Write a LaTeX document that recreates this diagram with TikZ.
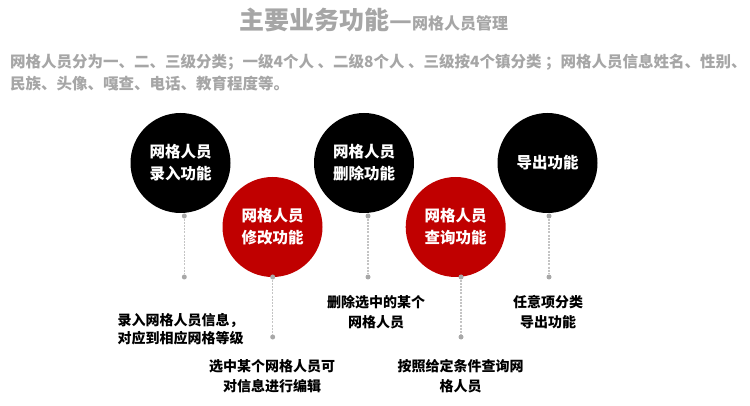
\documentclass[tikz,border=0pt]{standalone}
\usepackage{fontspec}
\setmainfont{Noto Sans CJK SC}
\definecolor{tgray}{HTML}{A6A6A6}
\definecolor{cred}{HTML}{C00000}
\definecolor{linegray}{HTML}{C4C4C4}
\definecolor{dotgray}{HTML}{A8A8A8}
\begin{document}
\begin{tikzpicture}[x=1pt,y=-1pt,
  bigc/.style={circle, minimum size=100pt, inner sep=0, text=white, font=\fontsize{15.5}{22}\selectfont\bfseries, align=center},
  blk/.style={bigc, fill=black},
  rd/.style={bigc, fill=cred},
  lbl/.style={align=center, inner sep=0, text=black, font=\fontsize{14}{18}\selectfont\bfseries},
  lblw/.style={lbl, font=\fontsize{14}{20}\selectfont\bfseries},
  subt/.style={anchor=west, inner sep=0, text=tgray, font=\fontsize{15.5}{15.5}\selectfont\bfseries},
  dotn/.style={circle, fill=dotgray, minimum size=5pt, inner sep=0},
  conn/.style={draw=linegray, line width=1.3pt, dash pattern=on 2pt off 1.2pt}]
\useasboundingbox (0,0) rectangle (750,406);
% title
\node[anchor=base west, inner sep=0, text=tgray] (title) at (239,29.5)
  {{\fontsize{25}{25}\selectfont\bfseries 主要业务功能—}{\fontsize{16}{16}\selectfont\bfseries 网格人员管理}};
\node[subt] (sub1) at (10,62)
  {网格人员分为一、二、三级分类；一级4个人 、二级8个人 、三级按4个镇分类 ；网格人员信息姓名、性别、};
\node[subt] (sub2) at (10,84)
  {民族、头像、嘎查、电话、教育程度等。};
% circles
\node[blk] (c1) at (180.5,163) {网格人员\\录入功能};
\node[rd]  (c2) at (272.5,227) {网格人员\\修改功能};
\node[blk] (c3) at (364,163) {网格人员\\删除功能};
\node[rd]  (c4) at (455.7,227) {网格人员\\查询功能};
\node[blk] (c5) at (547.5,163) {导出功能};
% dots
\node[dotn] (d1a) at (184.3,216) {};
\node[dotn] (d1b) at (184.3,277) {};
\node[dotn] (d2a) at (272.7,277) {};
\node[dotn] (d2b) at (272.7,337) {};
\node[dotn] (d3a) at (368,216) {};
\node[dotn] (d3b) at (368,277) {};
\node[dotn] (d4a) at (461,277) {};
\node[dotn] (d4b) at (461,337) {};
\node[dotn] (d5a) at (549,216) {};
\node[dotn] (d5b) at (549,277) {};
\draw[conn] (d1a) -- (d1b);
\draw[conn] (d2a) -- (d2b);
\draw[conn] (d3a) -- (d3b);
\draw[conn] (d4a) -- (d4b);
\draw[conn] (d5a) -- (d5b);
% labels
\node[lbl]  (l1) at (180.5,329) {录入网格人员信息，\\对应到相应网格等级};
\node[lblw] (l2) at (272,376) {选中某个网格人员可\\对信息进行编辑};
\node[lblw] (l3) at (376,312.5) {删除选中的某个\\网格人员};
\node[lblw] (l4) at (460.5,376) {按照给定条件查询网\\格人员};
\node[lblw] (l5) at (548,312.2) {任意项分类\\导出功能};
\end{tikzpicture}
\end{document}
